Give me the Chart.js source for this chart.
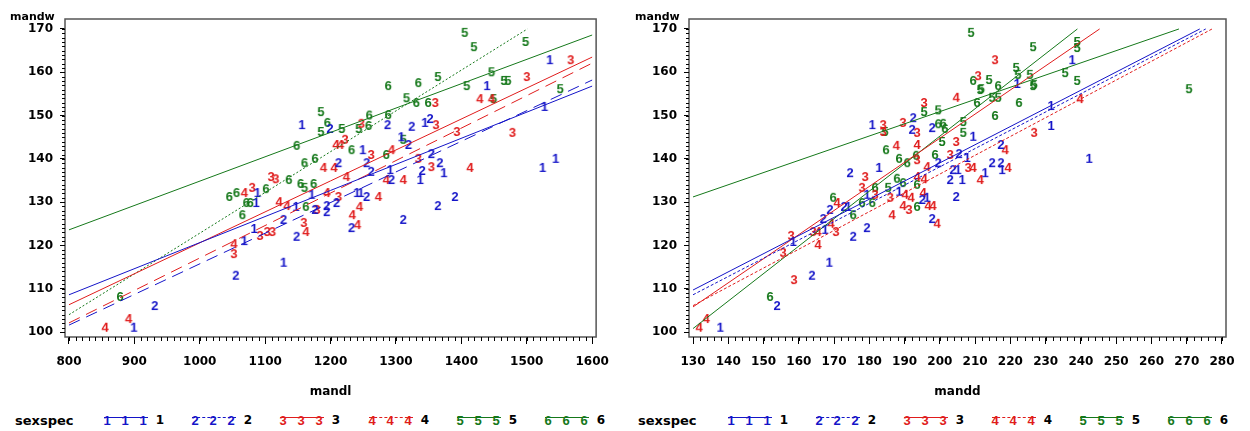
<!DOCTYPE html>
<html>
<head>
<meta charset="utf-8">
<script src="https://cdn.jsdelivr.net/npm/chart.js@4.4.0/dist/chart.umd.min.js"></script>
<style>
body{margin:0;background:#fff;width:1250px;height:431px;overflow:hidden;position:relative;font-family:'DejaVu Sans';}
canvas{position:absolute;top:0;}
.ytitle{position:absolute;top:10px;line-height:13px;font:bold 11px 'DejaVu Sans';color:#000;}
.lgname{position:absolute;top:413px;line-height:16px;font:bold 13px 'DejaVu Sans';color:#000;}
.lgitem{position:absolute;top:413px;width:44px;height:16px;}
.lgline{position:absolute;left:0;top:4px;width:44px;height:0;}
.lgdig{position:absolute;top:0;width:8px;text-align:center;line-height:16px;font:bold 13px 'Liberation Sans';}
.lglab{position:absolute;top:413px;width:10px;text-align:center;line-height:16px;font:bold 12px 'DejaVu Sans';color:#000;}
</style>
</head>
<body>
<canvas id="chartMandl" width="620" height="400" style="left:0"></canvas>
<canvas id="chartMandd" width="630" height="400" style="left:620px"></canvas>
<div class="ytitle" style="left:10px">mandw</div>
<div class="ytitle" style="left:635px">mandw</div>
<div id="legend"></div>
<script>
const sexspec = ['1', '2', '3', '4', '5', '6'];
const yTicks = [100, 110, 120, 130, 140, 150, 160, 170];
const xTicksMandl = [800, 900, 1000, 1100, 1200, 1300, 1400, 1500, 1600];
const xTicksMandd = [130, 140, 150, 160, 170, 180, 190, 200, 210, 220, 230, 240, 250, 260, 270, 280];

// mandl vs mandw, one list per sexspec
const mandl1 = [[899,101],[1128,116],[1068,121],[1083,123.8],[1147,128.9],[1171,131.7],[1088,132.1],[1086,129.8],[1240,132.1],[1246,132.1],[1291,137.4],[1337,135.1],[1373,136.7],[1249,142],[1308,145],[1344,148.3],[1156,147.8],[1439,156.8],[1535,162.8],[1527,152],[1544,140],[1524,137.9]];
const mandl2 = [[931,106],[1055,113],[1128,125.9],[1148,122],[1176,128.2],[1194,129.1],[1194,127.7],[1209,129.8],[1232,124],[1255,131.2],[1311,125.9],[1364,129.1],[1390,131.2],[1212,139],[1255,139],[1262,137],[1293,135.1],[1354,141.1],[1367,139],[1319,143.2],[1324,147.4],[1352,149.2],[1287,147.8],[1199,146.9],[1340,137.2]];
const mandl3 = [[1052,118],[1092,122.2],[1103,123.1],[1111,123.1],[1159,125.2],[1179,128.2],[1212,131.2],[1109,135.8],[1116,135.3],[1080,133.3],[1334,140],[1354,138.1],[1262,140.9],[1222,144.4],[1361,147.8],[1393,146.2],[1247,148.1],[1360,152.9],[1500,158.9],[1567,162.8],[1478,146]];
const mandl4 = [[855,101],[891,103],[1052,120.3],[1162,123.1],[1133,129.1],[1121,130],[1068,132.1],[1194,132.1],[1244,128.9],[1233,127],[1241,124.7],[1273,131.2],[1224,135.8],[1189,137.9],[1205,137.9],[1285,135.1],[1311,135.1],[1413,137.9],[1293,142],[1208,143.2],[1215,143.2],[1428,153.8],[1446,153.8]];
const mandl5 = [[1160,133.3],[1311,144.4],[1185,150.8],[1185,146.2],[1217,146.9],[1243,146.9],[1316,154],[1408,156.8],[1364,158.9],[1405,169.1],[1419,165.8],[1498,167],[1446,160],[1465,158],[1471,158],[1449,153.8],[1551,156.1]];
const mandl6 = [[878,108.1],[1162,128.9],[1045,131.2],[1056,132.1],[1101,133],[1071,129.8],[1077,129.8],[1065,127],[1136,135.1],[1154,134.2],[1174,134.2],[1148,143],[1160,139],[1176,140],[1232,142],[1285,140.9],[1195,148.3],[1259,150],[1258,147.6],[1288,150.1],[1288,156.8],[1334,157.5],[1331,152.9],[1349,152.9]];

// mandd vs mandw, one list per sexspec
const mandd1 = [[137.7,101],[168.6,116],[158.4,120.8],[167.4,123.6],[174,128.9],[179.3,131.7],[182.7,137.9],[188.4,132.4],[196.3,131],[206.3,135.1],[205.1,137.4],[212.8,136.7],[217.6,137.4],[207.7,140.2],[209.4,145.1],[180.8,147.8],[231.5,147.6],[231.5,152.2],[221.9,157.3],[237.5,162.8],[242.3,140]];
const mandd2 = [[153.8,106],[163.7,113],[175.4,122],[179.3,124],[166.9,126.1],[168.8,128.2],[172.8,128.9],[174.5,136.7],[195,130.5],[197.8,126.1],[204.6,131.2],[202.9,135.1],[203.7,137.4],[214.8,139],[217.3,139],[217.3,143.2],[199.5,139],[205.4,141.1],[192.1,146.7],[197.8,147.1],[192.4,149.4]];
const mandd3 = [[158.6,112],[155.5,118.3],[157.8,122.2],[164,123.1],[170.5,123.1],[191.2,128.2],[177.9,133.3],[181.6,131.7],[178.8,135.8],[185.9,131],[193.5,139.7],[202.9,140.9],[208,137.9],[204.6,143.9],[226.7,146],[183.9,147.8],[183.9,146.2],[189.5,148.3],[193.5,146],[195.5,152.9],[210.8,159.1],[215.6,162.8]];
const mandd4 = [[131.7,101],[133.7,103],[165.4,120.1],[165.4,123.1],[169.1,125],[170.8,129.8],[186.4,127],[189.5,129.1],[196.6,129.1],[198,129.1],[199.2,125],[190.1,131.7],[191.8,131],[193.5,135.8],[195.5,135.3],[195.2,132.1],[209.4,137.9],[211.4,135.1],[219.3,137.9],[218.5,142],[196.3,138.1],[187.6,143],[193.5,143.2],[204.6,154.1],[239.7,153.8]];
const mandd5 = [[185.3,133.3],[200.6,143.9],[206.6,148.5],[206.6,146],[184.4,146.2],[195.5,150.8],[211.4,155.9],[214.8,154.1],[216.5,154.1],[226.7,157.1],[208.8,169.1],[226.4,165.8],[238.9,167],[238.9,165.6],[213.9,158.2],[211.7,156.1],[221.6,161],[222.1,159.4],[225.5,159.4],[226.4,156.8],[235.5,159.8],[238.9,158],[270.6,156.1],[199.5,151.2]];
const mandd6 = [[151.8,108.1],[175.4,127],[177.9,129.8],[180.8,129.8],[193.5,128.9],[169.7,131],[181.6,133.3],[187.8,135.4],[189.5,134.4],[193.5,134],[198.6,140.9],[184.7,142],[193.2,140.7],[188.4,140],[190.7,139],[200.9,148.1],[199.5,148],[210.5,152.9],[216.5,156.8],[222.4,152.9],[215.6,149.9],[209.4,158],[201.4,146.9]];

// fitted lines per sexspec: [x start, y start, x end, y end]
const fitMandl = [[800,108.6,1600,156.8],[800,101.6,1600,158.2],[800,106.3,1600,163.5],[800,102.1,1600,162.1],[800,123.6,1600,168.6],[800,104,1501,170]];
const fitMandd = [[130,109.7,273.7,170],[130,108.6,275.4,170],[130,105.8,245.3,170],[130,106.1,277.2,170],[130,131.2,267.8,170],[130,100.8,239,170]];

const colors = ['#1414c8', '#1414c8', '#e01c1c', '#e01c1c', '#15781a', '#15781a'];

function digitMarker(d, color) {
    const c = document.createElement('canvas');
    c.width = 14;
    c.height = 16;
    const g = c.getContext('2d');
    g.font = 'bold 13px "Liberation Sans"';
    g.fillStyle = color;
    g.textAlign = 'center';
    g.textBaseline = 'middle';
    g.fillText(d, 7, 8.5);
    return c;
}
const markers = sexspec.map((s, i) => digitMarker(s, colors[i]));

// box round the plot and the small ticks
const frameTicks = {
    id: 'frameTicks',
    afterDraw(chart, args, opts) {
        const {ctx, chartArea: a, scales} = chart;
        ctx.save();
        ctx.strokeStyle = '#555';
        ctx.lineWidth = 1.5;
        ctx.strokeRect(a.left, a.top, a.right - a.left, a.bottom - a.top);
        ctx.strokeStyle = '#000';
        ctx.lineWidth = 1;
        ctx.beginPath();
        for (let v = opts.xFrom; v <= opts.xTo + 1e-9; v += opts.xStep) {
            const p = Math.round(scales.x.getPixelForValue(v)) + 0.5;
            ctx.moveTo(p, a.bottom);
            ctx.lineTo(p, a.bottom + 4);
        }
        for (let v = 100; v <= 170; v += 1) {
            const p = Math.round(scales.y.getPixelForValue(v)) + 0.5;
            ctx.moveTo(a.left, p);
            ctx.lineTo(a.left - 3, p);
        }
        ctx.stroke();
        ctx.restore();
    }
};

function makeChart(id, pts, fits, dash, xMin, xMax, xTicks, xStep, xTitle, padRight, yWidth) {
    let datasets = [];
    sexspec.forEach((s, i) => {
        datasets.push({
            label: 'fit ' + s,
            data: [{x: fits[i][0], y: fits[i][1]}, {x: fits[i][2], y: fits[i][3]}],
            showLine: true,
            borderColor: colors[i],
            borderWidth: 1,
            borderDash: dash[i],
            pointRadius: 0
        });
    });
    sexspec.forEach((s, i) => {
        datasets.push({
            label: s,
            data: pts[i].map(p => ({x: p[0], y: p[1]})),
            pointStyle: markers[i],
            pointRadius: 3
        });
    });
    const tickFont = {family: 'DejaVu Sans', size: 12, weight: 'bold'};
    return new Chart(document.getElementById(id), {
        type: 'scatter',
        data: {datasets: datasets},
        options: {
            responsive: false,
            animation: false,
            events: [],
            layout: {padding: {left: 0, right: padRight, top: 19, bottom: 0}},
            plugins: {
                legend: {display: false},
                tooltip: {enabled: false},
                frameTicks: {xFrom: xMin, xTo: xMax, xStep: xStep}
            },
            scales: {
                x: {
                    type: 'linear',
                    min: xMin - 4 * (xMax - xMin) / 526,
                    max: xMax + 4 * (xMax - xMin) / 526,
                    afterBuildTicks: sc => { sc.ticks = xTicks.map(v => ({value: v})); },
                    afterFit: sc => { sc.height = 63; },
                    border: {display: false},
                    grid: {drawOnChartArea: false, tickLength: 7, color: '#000'},
                    ticks: {padding: 11, color: '#000', font: tickFont, maxRotation: 0, autoSkip: false,
                        callback: v => String(v)},
                    title: {display: true, text: xTitle, color: '#000', padding: {top: 0, bottom: 1},
                        font: {family: 'DejaVu Sans', size: 12, weight: 'bold'}}
                },
                y: {
                    type: 'linear',
                    min: 98.85,
                    max: 172.3,
                    afterBuildTicks: sc => { sc.ticks = yTicks.map(v => ({value: v})); },
                    afterFit: sc => { sc.width = yWidth; },
                    border: {display: false},
                    grid: {drawOnChartArea: false, tickLength: 5, color: '#000'},
                    ticks: {padding: 7, color: '#000', font: tickFont, callback: v => String(v)}
                }
            }
        },
        plugins: [frameTicks]
    });
}

makeChart('chartMandl', [mandl1, mandl2, mandl3, mandl4, mandl5, mandl6], fitMandl,
    [[], [12, 7], [], [12, 7], [], [2, 2]], 800, 1600, xTicksMandl, 10, 'mandl', 21, 65);
makeChart('chartMandd', [mandd1, mandd2, mandd3, mandd4, mandd5, mandd6], fitMandd,
    [[], [3, 2], [], [3, 2], [], []], 130, 280, xTicksMandd, 2, 'mandd', 24, 69);

// legend rows under both plots
const lineStyle = ['solid', 'dashed', 'solid', 'dashed', 'solid', 'solid'];
function buildLegend(nameLeft, start, step) {
    const box = document.getElementById('legend');
    let html = '<div class="lgname" style="left:' + nameLeft + 'px">sexspec</div>';
    sexspec.forEach((s, i) => {
        const x = Math.round(start + i * step);
        html += '<div class="lgitem" style="left:' + x + 'px">' +
            '<div class="lgline" style="border-top:1px ' + lineStyle[i] + ' ' + colors[i] + '"></div>' +
            [-1, 17, 35].map(o => '<span class="lgdig" style="left:' + o + 'px;color:' + colors[i] + '">' + s + '</span>').join('') +
            '</div>' +
            '<div class="lglab" style="left:' + (x + 51) + 'px">' + s + '</div>';
    });
    box.innerHTML += html;
}
buildLegend(15, 104, 88.2);
buildLegend(638, 728, 88);
</script>
</body>
</html>
